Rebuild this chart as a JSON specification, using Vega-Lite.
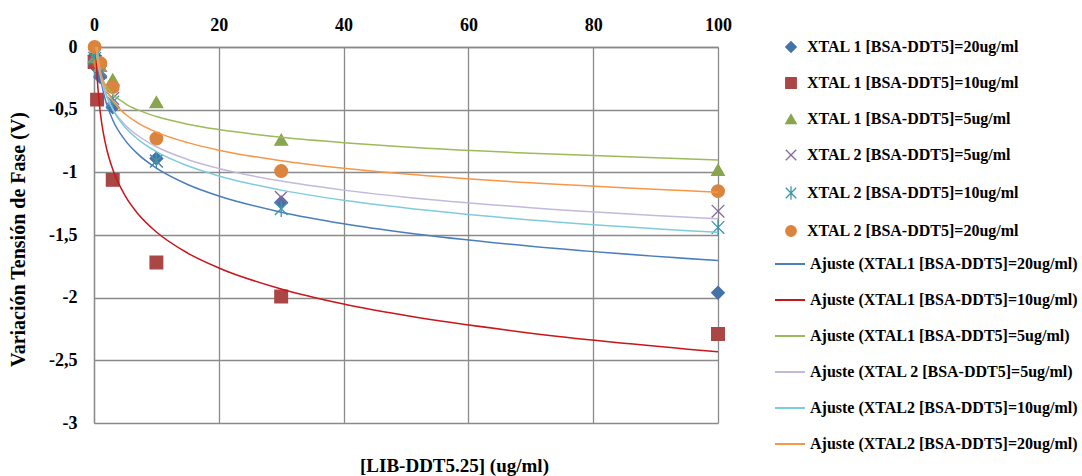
{
  "$schema": "https://vega.github.io/schema/vega-lite/v6.json",
  "autosize": "none",
  "width": 624,
  "height": 376,
  "padding": {"left": 94, "top": 47, "right": 364, "bottom": 53},
  "background": "white",
  "config": {"view": {"stroke": null}, "font": "Liberation Serif"},
  "datasets": {
    "pts": [
      {"s": "XTAL 1 [BSA-DDT5]=20ug/ml", "x": 0.1, "y": -0.07},
      {"s": "XTAL 1 [BSA-DDT5]=20ug/ml", "x": 0.5, "y": -0.17},
      {"s": "XTAL 1 [BSA-DDT5]=20ug/ml", "x": 1, "y": -0.24},
      {"s": "XTAL 1 [BSA-DDT5]=20ug/ml", "x": 3, "y": -0.48},
      {"s": "XTAL 1 [BSA-DDT5]=20ug/ml", "x": 10, "y": -0.89},
      {"s": "XTAL 1 [BSA-DDT5]=20ug/ml", "x": 30, "y": -1.24},
      {"s": "XTAL 1 [BSA-DDT5]=20ug/ml", "x": 100, "y": -1.96},
      {"s": "XTAL 1 [BSA-DDT5]=10ug/ml", "x": 0.1, "y": -0.12},
      {"s": "XTAL 1 [BSA-DDT5]=10ug/ml", "x": 0.5, "y": -0.42},
      {"s": "XTAL 1 [BSA-DDT5]=10ug/ml", "x": 3, "y": -1.06},
      {"s": "XTAL 1 [BSA-DDT5]=10ug/ml", "x": 10, "y": -1.72},
      {"s": "XTAL 1 [BSA-DDT5]=10ug/ml", "x": 30, "y": -1.99},
      {"s": "XTAL 1 [BSA-DDT5]=10ug/ml", "x": 100, "y": -2.29},
      {"s": "XTAL 1 [BSA-DDT5]=5ug/ml", "x": 0.1, "y": -0.08},
      {"s": "XTAL 1 [BSA-DDT5]=5ug/ml", "x": 1, "y": -0.15},
      {"s": "XTAL 1 [BSA-DDT5]=5ug/ml", "x": 3, "y": -0.26},
      {"s": "XTAL 1 [BSA-DDT5]=5ug/ml", "x": 10, "y": -0.44},
      {"s": "XTAL 1 [BSA-DDT5]=5ug/ml", "x": 30, "y": -0.74},
      {"s": "XTAL 1 [BSA-DDT5]=5ug/ml", "x": 100, "y": -0.98},
      {"s": "XTAL 2 [BSA-DDT5]=5ug/ml", "x": 0.1, "y": -0.06},
      {"s": "XTAL 2 [BSA-DDT5]=5ug/ml", "x": 1, "y": -0.2},
      {"s": "XTAL 2 [BSA-DDT5]=5ug/ml", "x": 3, "y": -0.41},
      {"s": "XTAL 2 [BSA-DDT5]=5ug/ml", "x": 10, "y": -0.91},
      {"s": "XTAL 2 [BSA-DDT5]=5ug/ml", "x": 30, "y": -1.2},
      {"s": "XTAL 2 [BSA-DDT5]=5ug/ml", "x": 100, "y": -1.31},
      {"s": "XTAL 2 [BSA-DDT5]=10ug/ml", "x": 0.1, "y": -0.09},
      {"s": "XTAL 2 [BSA-DDT5]=10ug/ml", "x": 1, "y": -0.18},
      {"s": "XTAL 2 [BSA-DDT5]=10ug/ml", "x": 3, "y": -0.44},
      {"s": "XTAL 2 [BSA-DDT5]=10ug/ml", "x": 10, "y": -0.91},
      {"s": "XTAL 2 [BSA-DDT5]=10ug/ml", "x": 30, "y": -1.29},
      {"s": "XTAL 2 [BSA-DDT5]=10ug/ml", "x": 100, "y": -1.44},
      {"s": "XTAL 2 [BSA-DDT5]=20ug/ml", "x": 0.1, "y": 0},
      {"s": "XTAL 2 [BSA-DDT5]=20ug/ml", "x": 1, "y": -0.13},
      {"s": "XTAL 2 [BSA-DDT5]=20ug/ml", "x": 3, "y": -0.32},
      {"s": "XTAL 2 [BSA-DDT5]=20ug/ml", "x": 10, "y": -0.73},
      {"s": "XTAL 2 [BSA-DDT5]=20ug/ml", "x": 30, "y": -0.99},
      {"s": "XTAL 2 [BSA-DDT5]=20ug/ml", "x": 100, "y": -1.15}
    ],
    "fits": [
      {"s": "Ajuste (XTAL1 [BSA-DDT5]=20ug/ml)", "x": 0.1, "y": 0.507},
      {"s": "Ajuste (XTAL1 [BSA-DDT5]=20ug/ml)", "x": 0.15, "y": 0.377},
      {"s": "Ajuste (XTAL1 [BSA-DDT5]=20ug/ml)", "x": 0.2, "y": 0.285},
      {"s": "Ajuste (XTAL1 [BSA-DDT5]=20ug/ml)", "x": 0.3, "y": 0.155},
      {"s": "Ajuste (XTAL1 [BSA-DDT5]=20ug/ml)", "x": 0.5, "y": -0.008},
      {"s": "Ajuste (XTAL1 [BSA-DDT5]=20ug/ml)", "x": 0.7, "y": -0.116},
      {"s": "Ajuste (XTAL1 [BSA-DDT5]=20ug/ml)", "x": 1, "y": -0.23},
      {"s": "Ajuste (XTAL1 [BSA-DDT5]=20ug/ml)", "x": 1.5, "y": -0.36},
      {"s": "Ajuste (XTAL1 [BSA-DDT5]=20ug/ml)", "x": 2, "y": -0.452},
      {"s": "Ajuste (XTAL1 [BSA-DDT5]=20ug/ml)", "x": 3, "y": -0.582},
      {"s": "Ajuste (XTAL1 [BSA-DDT5]=20ug/ml)", "x": 5, "y": -0.745},
      {"s": "Ajuste (XTAL1 [BSA-DDT5]=20ug/ml)", "x": 7, "y": -0.853},
      {"s": "Ajuste (XTAL1 [BSA-DDT5]=20ug/ml)", "x": 10, "y": -0.967},
      {"s": "Ajuste (XTAL1 [BSA-DDT5]=20ug/ml)", "x": 15, "y": -1.097},
      {"s": "Ajuste (XTAL1 [BSA-DDT5]=20ug/ml)", "x": 20, "y": -1.189},
      {"s": "Ajuste (XTAL1 [BSA-DDT5]=20ug/ml)", "x": 30, "y": -1.318},
      {"s": "Ajuste (XTAL1 [BSA-DDT5]=20ug/ml)", "x": 40, "y": -1.41},
      {"s": "Ajuste (XTAL1 [BSA-DDT5]=20ug/ml)", "x": 50, "y": -1.482},
      {"s": "Ajuste (XTAL1 [BSA-DDT5]=20ug/ml)", "x": 70, "y": -1.59},
      {"s": "Ajuste (XTAL1 [BSA-DDT5]=20ug/ml)", "x": 100, "y": -1.704},
      {"s": "Ajuste (XTAL1 [BSA-DDT5]=10ug/ml)", "x": 0.1, "y": 0.436},
      {"s": "Ajuste (XTAL1 [BSA-DDT5]=10ug/ml)", "x": 0.15, "y": 0.267},
      {"s": "Ajuste (XTAL1 [BSA-DDT5]=10ug/ml)", "x": 0.2, "y": 0.148},
      {"s": "Ajuste (XTAL1 [BSA-DDT5]=10ug/ml)", "x": 0.3, "y": -0.02},
      {"s": "Ajuste (XTAL1 [BSA-DDT5]=10ug/ml)", "x": 0.5, "y": -0.232},
      {"s": "Ajuste (XTAL1 [BSA-DDT5]=10ug/ml)", "x": 0.7, "y": -0.372},
      {"s": "Ajuste (XTAL1 [BSA-DDT5]=10ug/ml)", "x": 1, "y": -0.52},
      {"s": "Ajuste (XTAL1 [BSA-DDT5]=10ug/ml)", "x": 1.5, "y": -0.688},
      {"s": "Ajuste (XTAL1 [BSA-DDT5]=10ug/ml)", "x": 2, "y": -0.808},
      {"s": "Ajuste (XTAL1 [BSA-DDT5]=10ug/ml)", "x": 3, "y": -0.976},
      {"s": "Ajuste (XTAL1 [BSA-DDT5]=10ug/ml)", "x": 5, "y": -1.188},
      {"s": "Ajuste (XTAL1 [BSA-DDT5]=10ug/ml)", "x": 7, "y": -1.328},
      {"s": "Ajuste (XTAL1 [BSA-DDT5]=10ug/ml)", "x": 10, "y": -1.476},
      {"s": "Ajuste (XTAL1 [BSA-DDT5]=10ug/ml)", "x": 15, "y": -1.644},
      {"s": "Ajuste (XTAL1 [BSA-DDT5]=10ug/ml)", "x": 20, "y": -1.763},
      {"s": "Ajuste (XTAL1 [BSA-DDT5]=10ug/ml)", "x": 30, "y": -1.931},
      {"s": "Ajuste (XTAL1 [BSA-DDT5]=10ug/ml)", "x": 40, "y": -2.051},
      {"s": "Ajuste (XTAL1 [BSA-DDT5]=10ug/ml)", "x": 50, "y": -2.143},
      {"s": "Ajuste (XTAL1 [BSA-DDT5]=10ug/ml)", "x": 70, "y": -2.283},
      {"s": "Ajuste (XTAL1 [BSA-DDT5]=10ug/ml)", "x": 100, "y": -2.431},
      {"s": "Ajuste (XTAL1 [BSA-DDT5]=5ug/ml)", "x": 0.1, "y": 0.135},
      {"s": "Ajuste (XTAL1 [BSA-DDT5]=5ug/ml)", "x": 0.15, "y": 0.075},
      {"s": "Ajuste (XTAL1 [BSA-DDT5]=5ug/ml)", "x": 0.2, "y": 0.031},
      {"s": "Ajuste (XTAL1 [BSA-DDT5]=5ug/ml)", "x": 0.3, "y": -0.029},
      {"s": "Ajuste (XTAL1 [BSA-DDT5]=5ug/ml)", "x": 0.5, "y": -0.106},
      {"s": "Ajuste (XTAL1 [BSA-DDT5]=5ug/ml)", "x": 0.7, "y": -0.156},
      {"s": "Ajuste (XTAL1 [BSA-DDT5]=5ug/ml)", "x": 1, "y": -0.21},
      {"s": "Ajuste (XTAL1 [BSA-DDT5]=5ug/ml)", "x": 1.5, "y": -0.271},
      {"s": "Ajuste (XTAL1 [BSA-DDT5]=5ug/ml)", "x": 2, "y": -0.314},
      {"s": "Ajuste (XTAL1 [BSA-DDT5]=5ug/ml)", "x": 3, "y": -0.375},
      {"s": "Ajuste (XTAL1 [BSA-DDT5]=5ug/ml)", "x": 5, "y": -0.451},
      {"s": "Ajuste (XTAL1 [BSA-DDT5]=5ug/ml)", "x": 7, "y": -0.502},
      {"s": "Ajuste (XTAL1 [BSA-DDT5]=5ug/ml)", "x": 10, "y": -0.555},
      {"s": "Ajuste (XTAL1 [BSA-DDT5]=5ug/ml)", "x": 15, "y": -0.616},
      {"s": "Ajuste (XTAL1 [BSA-DDT5]=5ug/ml)", "x": 20, "y": -0.659},
      {"s": "Ajuste (XTAL1 [BSA-DDT5]=5ug/ml)", "x": 30, "y": -0.72},
      {"s": "Ajuste (XTAL1 [BSA-DDT5]=5ug/ml)", "x": 40, "y": -0.763},
      {"s": "Ajuste (XTAL1 [BSA-DDT5]=5ug/ml)", "x": 50, "y": -0.797},
      {"s": "Ajuste (XTAL1 [BSA-DDT5]=5ug/ml)", "x": 70, "y": -0.847},
      {"s": "Ajuste (XTAL1 [BSA-DDT5]=5ug/ml)", "x": 100, "y": -0.901},
      {"s": "Ajuste (XTAL 2 [BSA-DDT5]=5ug/ml)", "x": 0.1, "y": 0.356},
      {"s": "Ajuste (XTAL 2 [BSA-DDT5]=5ug/ml)", "x": 0.15, "y": 0.254},
      {"s": "Ajuste (XTAL 2 [BSA-DDT5]=5ug/ml)", "x": 0.2, "y": 0.182},
      {"s": "Ajuste (XTAL 2 [BSA-DDT5]=5ug/ml)", "x": 0.3, "y": 0.081},
      {"s": "Ajuste (XTAL 2 [BSA-DDT5]=5ug/ml)", "x": 0.5, "y": -0.047},
      {"s": "Ajuste (XTAL 2 [BSA-DDT5]=5ug/ml)", "x": 0.7, "y": -0.131},
      {"s": "Ajuste (XTAL 2 [BSA-DDT5]=5ug/ml)", "x": 1, "y": -0.22},
      {"s": "Ajuste (XTAL 2 [BSA-DDT5]=5ug/ml)", "x": 1.5, "y": -0.321},
      {"s": "Ajuste (XTAL 2 [BSA-DDT5]=5ug/ml)", "x": 2, "y": -0.393},
      {"s": "Ajuste (XTAL 2 [BSA-DDT5]=5ug/ml)", "x": 3, "y": -0.495},
      {"s": "Ajuste (XTAL 2 [BSA-DDT5]=5ug/ml)", "x": 5, "y": -0.622},
      {"s": "Ajuste (XTAL 2 [BSA-DDT5]=5ug/ml)", "x": 7, "y": -0.706},
      {"s": "Ajuste (XTAL 2 [BSA-DDT5]=5ug/ml)", "x": 10, "y": -0.796},
      {"s": "Ajuste (XTAL 2 [BSA-DDT5]=5ug/ml)", "x": 15, "y": -0.897},
      {"s": "Ajuste (XTAL 2 [BSA-DDT5]=5ug/ml)", "x": 20, "y": -0.969},
      {"s": "Ajuste (XTAL 2 [BSA-DDT5]=5ug/ml)", "x": 30, "y": -1.07},
      {"s": "Ajuste (XTAL 2 [BSA-DDT5]=5ug/ml)", "x": 40, "y": -1.142},
      {"s": "Ajuste (XTAL 2 [BSA-DDT5]=5ug/ml)", "x": 50, "y": -1.198},
      {"s": "Ajuste (XTAL 2 [BSA-DDT5]=5ug/ml)", "x": 70, "y": -1.282},
      {"s": "Ajuste (XTAL 2 [BSA-DDT5]=5ug/ml)", "x": 100, "y": -1.371},
      {"s": "Ajuste (XTAL2 [BSA-DDT5]=10ug/ml)", "x": 0.1, "y": 0.455},
      {"s": "Ajuste (XTAL2 [BSA-DDT5]=10ug/ml)", "x": 0.15, "y": 0.341},
      {"s": "Ajuste (XTAL2 [BSA-DDT5]=10ug/ml)", "x": 0.2, "y": 0.261},
      {"s": "Ajuste (XTAL2 [BSA-DDT5]=10ug/ml)", "x": 0.3, "y": 0.147},
      {"s": "Ajuste (XTAL2 [BSA-DDT5]=10ug/ml)", "x": 0.5, "y": 0.004},
      {"s": "Ajuste (XTAL2 [BSA-DDT5]=10ug/ml)", "x": 0.7, "y": -0.09},
      {"s": "Ajuste (XTAL2 [BSA-DDT5]=10ug/ml)", "x": 1, "y": -0.19},
      {"s": "Ajuste (XTAL2 [BSA-DDT5]=10ug/ml)", "x": 1.5, "y": -0.304},
      {"s": "Ajuste (XTAL2 [BSA-DDT5]=10ug/ml)", "x": 2, "y": -0.384},
      {"s": "Ajuste (XTAL2 [BSA-DDT5]=10ug/ml)", "x": 3, "y": -0.498},
      {"s": "Ajuste (XTAL2 [BSA-DDT5]=10ug/ml)", "x": 5, "y": -0.641},
      {"s": "Ajuste (XTAL2 [BSA-DDT5]=10ug/ml)", "x": 7, "y": -0.735},
      {"s": "Ajuste (XTAL2 [BSA-DDT5]=10ug/ml)", "x": 10, "y": -0.835},
      {"s": "Ajuste (XTAL2 [BSA-DDT5]=10ug/ml)", "x": 15, "y": -0.948},
      {"s": "Ajuste (XTAL2 [BSA-DDT5]=10ug/ml)", "x": 20, "y": -1.029},
      {"s": "Ajuste (XTAL2 [BSA-DDT5]=10ug/ml)", "x": 30, "y": -1.142},
      {"s": "Ajuste (XTAL2 [BSA-DDT5]=10ug/ml)", "x": 40, "y": -1.223},
      {"s": "Ajuste (XTAL2 [BSA-DDT5]=10ug/ml)", "x": 50, "y": -1.285},
      {"s": "Ajuste (XTAL2 [BSA-DDT5]=10ug/ml)", "x": 70, "y": -1.38},
      {"s": "Ajuste (XTAL2 [BSA-DDT5]=10ug/ml)", "x": 100, "y": -1.479},
      {"s": "Ajuste (XTAL2 [BSA-DDT5]=20ug/ml)", "x": 0.1, "y": 0.279},
      {"s": "Ajuste (XTAL2 [BSA-DDT5]=20ug/ml)", "x": 0.15, "y": 0.195},
      {"s": "Ajuste (XTAL2 [BSA-DDT5]=20ug/ml)", "x": 0.2, "y": 0.135},
      {"s": "Ajuste (XTAL2 [BSA-DDT5]=20ug/ml)", "x": 0.3, "y": 0.05},
      {"s": "Ajuste (XTAL2 [BSA-DDT5]=20ug/ml)", "x": 0.5, "y": -0.056},
      {"s": "Ajuste (XTAL2 [BSA-DDT5]=20ug/ml)", "x": 0.7, "y": -0.126},
      {"s": "Ajuste (XTAL2 [BSA-DDT5]=20ug/ml)", "x": 1, "y": -0.2},
      {"s": "Ajuste (XTAL2 [BSA-DDT5]=20ug/ml)", "x": 1.5, "y": -0.284},
      {"s": "Ajuste (XTAL2 [BSA-DDT5]=20ug/ml)", "x": 2, "y": -0.344},
      {"s": "Ajuste (XTAL2 [BSA-DDT5]=20ug/ml)", "x": 3, "y": -0.429},
      {"s": "Ajuste (XTAL2 [BSA-DDT5]=20ug/ml)", "x": 5, "y": -0.535},
      {"s": "Ajuste (XTAL2 [BSA-DDT5]=20ug/ml)", "x": 7, "y": -0.605},
      {"s": "Ajuste (XTAL2 [BSA-DDT5]=20ug/ml)", "x": 10, "y": -0.679},
      {"s": "Ajuste (XTAL2 [BSA-DDT5]=20ug/ml)", "x": 15, "y": -0.763},
      {"s": "Ajuste (XTAL2 [BSA-DDT5]=20ug/ml)", "x": 20, "y": -0.823},
      {"s": "Ajuste (XTAL2 [BSA-DDT5]=20ug/ml)", "x": 30, "y": -0.907},
      {"s": "Ajuste (XTAL2 [BSA-DDT5]=20ug/ml)", "x": 40, "y": -0.967},
      {"s": "Ajuste (XTAL2 [BSA-DDT5]=20ug/ml)", "x": 50, "y": -1.014},
      {"s": "Ajuste (XTAL2 [BSA-DDT5]=20ug/ml)", "x": 70, "y": -1.084},
      {"s": "Ajuste (XTAL2 [BSA-DDT5]=20ug/ml)", "x": 100, "y": -1.158}
    ]
  },
  "encoding": {
    "x": {
      "field": "x", "type": "quantitative",
      "scale": {"domain": [0, 100], "nice": false, "zero": false},
      "axis": {
        "orient": "top", "values": [0, 20, 40, 60, 80, 100], "grid": true,
        "gridColor": "#8a8a8a", "gridWidth": 1.3, "domainColor": "#8a8a8a", "domainWidth": 1.3,
        "tickSize": 0, "labelPadding": 13, "labelFlush": false, "labelOverlap": false,
        "labelFont": "Liberation Serif", "labelFontSize": 18,
        "labelFontWeight": "bold", "labelColor": "black",
        "title": "[LIB-DDT5.25] (ug/ml)", "titleFont": "Liberation Serif", "titleFontSize": 19,
        "titleFontWeight": "bold", "titleColor": "black", "titleX": 360, "titleY": 418,
        "titleBaseline": "middle", "titleAlign": "center", "titleAngle": 0
      }
    },
    "y": {
      "field": "y", "type": "quantitative",
      "scale": {"domain": [-3, 0], "nice": false, "zero": false},
      "axis": {
        "orient": "left", "values": [-3, -2.5, -2, -1.5, -1, -0.5, 0], "grid": true,
        "gridColor": "#8a8a8a", "gridWidth": 1.3, "domainColor": "#8a8a8a", "domainWidth": 1.3,
        "tickSize": 0, "labelPadding": 17, "labelFlush": false, "labelOverlap": false,
        "labelFont": "Liberation Serif", "labelFontSize": 18,
        "labelFontWeight": "bold", "labelColor": "black",
        "labelExpr": "replace(toString(datum.value), '.', ',')",
        "title": "Variación Tensión de Fase (V)", "titleFont": "Liberation Serif", "titleFontSize": 20,
        "titleFontWeight": "bold", "titleColor": "black", "titleX": -76, "titleY": 192,
        "titleBaseline": "middle", "titleAlign": "center", "titleAngle": -90
      }
    }
  },
  "layer": [
    {
      "data": {"name": "pts"},
      "mark": {"type": "point", "filled": true, "opacity": 1, "strokeWidth": 1.3, "size": 160},
      "encoding": {
        "fill": {
          "field": "s", "type": "nominal",
          "scale": {
            "domain": [
              "XTAL 1 [BSA-DDT5]=20ug/ml", "XTAL 1 [BSA-DDT5]=10ug/ml", "XTAL 1 [BSA-DDT5]=5ug/ml",
              "XTAL 2 [BSA-DDT5]=5ug/ml", "XTAL 2 [BSA-DDT5]=10ug/ml", "XTAL 2 [BSA-DDT5]=20ug/ml"
            ],
            "range": ["#4572A7", "#AA4643", "#89A54E", "#80699B", "#3D96AE", "#DB843D"]
          },
          "legend": {
            "title": null, "orient": "none", "legendX": 689, "legendY": -8,
            "symbolSize": 110, "symbolStrokeWidth": 1.3, "rowPadding": 20, "labelOffset": 8,
            "labelFont": "Liberation Serif", "labelFontSize": 16, "labelFontWeight": "bold",
            "labelColor": "black", "labelLimit": 400, "symbolOpacity": 1
          }
        },
        "stroke": {
          "field": "s", "type": "nominal",
          "scale": {
            "domain": [
              "XTAL 1 [BSA-DDT5]=20ug/ml", "XTAL 1 [BSA-DDT5]=10ug/ml", "XTAL 1 [BSA-DDT5]=5ug/ml",
              "XTAL 2 [BSA-DDT5]=5ug/ml", "XTAL 2 [BSA-DDT5]=10ug/ml", "XTAL 2 [BSA-DDT5]=20ug/ml"
            ],
            "range": ["#4572A7", "#AA4643", "#89A54E", "#80699B", "#3D96AE", "#DB843D"]
          },
          "legend": {
            "title": null, "orient": "none", "legendX": 689, "legendY": -8,
            "symbolSize": 110, "symbolStrokeWidth": 1.3, "rowPadding": 20, "labelOffset": 8,
            "labelFont": "Liberation Serif", "labelFontSize": 16, "labelFontWeight": "bold",
            "labelColor": "black", "labelLimit": 400, "symbolOpacity": 1
          }
        },
        "shape": {
          "field": "s", "type": "nominal",
          "scale": {
            "domain": [
              "XTAL 1 [BSA-DDT5]=20ug/ml", "XTAL 1 [BSA-DDT5]=10ug/ml", "XTAL 1 [BSA-DDT5]=5ug/ml",
              "XTAL 2 [BSA-DDT5]=5ug/ml", "XTAL 2 [BSA-DDT5]=10ug/ml", "XTAL 2 [BSA-DDT5]=20ug/ml"
            ],
            "range": ["diamond", "square", "triangle-up", "M-1,-1L1,1M-1,1L1,-1", "M-1,-1L1,1M-1,1L1,-1M0,-1.3L0,1.3", "circle"]
          },
          "legend": {
            "title": null, "orient": "none", "legendX": 689, "legendY": -8,
            "symbolSize": 110, "symbolStrokeWidth": 1.3, "rowPadding": 20, "labelOffset": 8,
            "labelFont": "Liberation Serif", "labelFontSize": 16, "labelFontWeight": "bold",
            "labelColor": "black", "labelLimit": 400, "symbolOpacity": 1
          }
        }
      }
    },
    {
      "data": {"name": "fits"},
      "mark": {"type": "line", "strokeWidth": 1.5, "clip": true, "interpolate": "monotone"},
      "encoding": {
        "color": {
          "field": "s", "type": "nominal",
          "scale": {
            "domain": [
              "Ajuste (XTAL1 [BSA-DDT5]=20ug/ml)", "Ajuste (XTAL1 [BSA-DDT5]=10ug/ml)", "Ajuste (XTAL1 [BSA-DDT5]=5ug/ml)",
              "Ajuste (XTAL 2 [BSA-DDT5]=5ug/ml)", "Ajuste (XTAL2 [BSA-DDT5]=10ug/ml)", "Ajuste (XTAL2 [BSA-DDT5]=20ug/ml)"
            ],
            "range": ["#4A7EBB", "#C8161A", "#9BBB59", "#C4B8DC", "#7ECBDD", "#F79646"]
          },
          "legend": {
            "title": null, "orient": "none", "legendX": 680, "legendY": 201,
            "symbolType": "stroke", "symbolSize": 900, "symbolStrokeWidth": 2, "rowPadding": 12, "labelOffset": 4,
            "labelFont": "Liberation Serif", "labelFontSize": 16, "labelFontWeight": "bold",
            "labelColor": "black", "labelLimit": 400
          }
        }
      }
    }
  ]
}
